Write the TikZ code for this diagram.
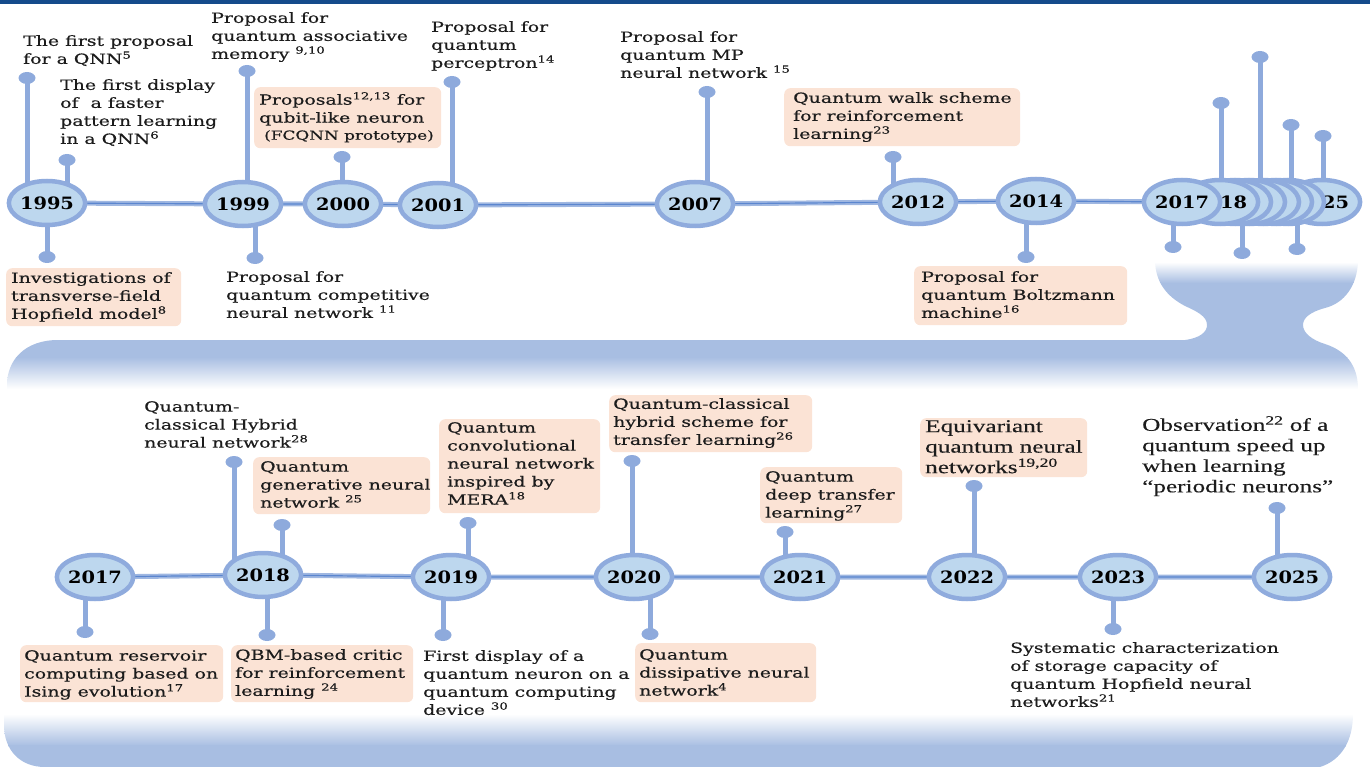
\documentclass[tikz,border=0pt]{standalone}
\usepackage{fontspec}
\setmainfont{DejaVu Serif}[FakeStretch=1.35,FakeBold=0.4]
\newfontfamily\yearfont{DejaVu Serif}[FakeStretch=1.14]
\newfontfamily\tmsfont{Liberation Serif}[FakeStretch=1.4,FakeBold=0.3]
\usetikzlibrary{shapes.geometric}
\pgfdeclarelayer{bg}
\pgfsetlayers{bg,main}
\definecolor{circfill}{HTML}{BDD7EE}
\definecolor{circdraw}{HTML}{8FABDD}
\definecolor{stemc}{HTML}{8EAADC}
\definecolor{boxc}{HTML}{FBE3D5}
\definecolor{bandc}{HTML}{A8BEE2}
\definecolor{linein}{HTML}{5B86CF}
\definecolor{stripc}{HTML}{154B8B}
\definecolor{txt}{HTML}{1C1C1C}
\begin{document}
\begin{tikzpicture}[x=1pt,y=-1pt,
  yr/.style={ellipse,draw=circdraw,fill=circfill,line width=4.5pt,minimum width=72pt,minimum height=44pt,inner sep=0pt,font=\yearfont\bfseries\fontsize{17}{18}\selectfont,text=black},
  yrblank/.style={yr},
  dotn/.style={ellipse,fill=stemc,minimum width=17pt,minimum height=12pt,inner sep=0pt},
  stem/.style={draw=stemc,line width=5pt},
  tlback/.style={draw=stemc!85,line width=5pt},
  tlfront/.style={draw=linein,line width=1.2pt},
  lbl/.style={anchor=north west,inner sep=0pt,align=left,text=txt,font=\fontsize{14}{18}\selectfont},
  tlbl/.style={anchor=north west,inner sep=0pt,align=left,text=txt,font=\tmsfont\fontsize{18}{20.5}\selectfont},
  boxbg/.style={fill=boxc,rounded corners=6pt,inner sep=0pt,anchor=north west}
]
\useasboundingbox (0,0) rectangle (1370,767);
% top strip
\fill[stripc] (0,0) rectangle (1370,4);

% ---------- bands ----------
\begin{pgfonlayer}{bg}
\begin{scope}
\clip (7,389) -- (7,385) .. controls (7,360) and (25,340) .. (58,340) -- (1185,340)
  .. controls (1200,338) and (1207,332) .. (1207,325)
  .. controls (1207,316) and (1196,311) .. (1185,306)
  .. controls (1166,296) and (1156,282) .. (1155,262) -- (1358,262)
  .. controls (1357,285) and (1345,303) .. (1325,308)
  .. controls (1310,312) and (1303,318) .. (1303,325)
  .. controls (1303,333) and (1312,340) .. (1325,344)
  .. controls (1350,352) and (1358,370) .. (1358,389) -- cycle;
\fill[bandc] (0,282) rectangle (1370,358);
\shade[top color=white,bottom color=bandc] (0,262) rectangle (1370,283);
\shade[top color=bandc,bottom color=white] (0,357) rectangle (1370,389);
\end{scope}
\begin{scope}
\clip (4,714) -- (4,725) .. controls (4,750) and (20,767) .. (45,767) -- (1320,767)
  .. controls (1342,760) and (1353,740) .. (1353,714) -- cycle;
\shade[top color=white,bottom color=bandc] (0,714) rectangle (1370,746);
\fill[bandc] (0,745) rectangle (1370,768);
\end{scope}
\end{pgfonlayer}

% ---------- top row circles ----------
\node[yr] (a1995) at (47,203) {1995};
\node[yr] (a1999) at (243,204) {1999};
\node[yr] (a2000) at (343,204) {2000};
\node[yr] (a2001) at (438,205) {2001};
\node[yr] (a2007) at (695,204) {2007};
\node[yr] (a2012) at (918,202) {2012};
\node[yr] (a2014) at (1036,201) {2014};
\node[yr] (k2025) at (1322,202) {\phantom{20}25};
\node[yrblank] (k2023) at (1288,202) {};
\node[yrblank] (k2022) at (1276,202) {};
\node[yrblank] (k2021) at (1263,202) {};
\node[yrblank] (k2020) at (1249,202) {};
\node[yrblank] (k2019) at (1235,202) {};
\node[yr] (k2018) at (1220,202) {\phantom{20}18};
\node[yr] (k2017) at (1182,202) {2017};

% top dots
\node[dotn] (t1) at (27,78) {};
\node[dotn] (t2) at (67,160) {};
\node[dotn] (t3) at (47,257) {};
\node[dotn] (t4) at (247,71) {};
\node[dotn] (t5) at (255,258) {};
\node[dotn] (t6) at (342,157) {};
\node[dotn] (t7) at (452,82) {};
\node[dotn] (t8) at (707,92) {};
\node[dotn] (t9) at (893,157) {};
\node[dotn] (t10) at (1026,257) {};
\node[dotn] (t11) at (1221,103) {};
\node[dotn] (t12) at (1260,57) {};
\node[dotn] (t13) at (1291,125) {};
\node[dotn] (t14) at (1323,136) {};
\node[dotn] (t15) at (1173,247) {};
\node[dotn] (t16) at (1242,253) {};
\node[dotn] (t17) at (1297,249) {};

% ---------- bottom row circles ----------
\node[yr] (b2017) at (95,577) {2017};
\node[yr] (b2018) at (263,575) {2018};
\node[yr] (b2019) at (451,577) {2019};
\node[yr] (b2020) at (634,577) {2020};
\node[yr] (b2021) at (800,577) {2021};
\node[yr] (b2022) at (967,577) {2022};
\node[yr] (b2023) at (1118,577) {2023};
\node[yr] (b2025) at (1292,577) {2025};

\node[dotn] (s1) at (85,632) {};
\node[dotn] (s2) at (234,462) {};
\node[dotn] (s3) at (282,525) {};
\node[dotn] (s4) at (267,635) {};
\node[dotn] (s5) at (468,523) {};
\node[dotn] (s6) at (443,635) {};
\node[dotn] (s7) at (632,461) {};
\node[dotn] (s8) at (650,634) {};
\node[dotn] (s9) at (785,532) {};
\node[dotn] (s10) at (974,486) {};
\node[dotn] (s11) at (1113,629) {};
\node[dotn] (s12) at (1277,508) {};

% ---------- connectors (behind) ----------
\begin{pgfonlayer}{bg}
\draw[tlback] (a1995.center) -- (a1999.center) -- (a2000.center) -- (a2001.center) -- (a2007.center) -- (a2012.center) -- (a2014.center) -- (k2017.center);
\draw[tlfront] (a1995.center) -- (a1999.center) -- (a2000.center) -- (a2001.center) -- (a2007.center) -- (a2012.center) -- (a2014.center) -- (k2017.center);
\draw[tlback] (b2017.center) -- (b2018.center) -- (b2019.center) -- (b2020.center) -- (b2021.center) -- (b2022.center) -- (b2023.center) -- (b2025.center);
\draw[tlfront] (b2017.center) -- (b2018.center) -- (b2019.center) -- (b2020.center) -- (b2021.center) -- (b2022.center) -- (b2023.center) -- (b2025.center);
\foreach \d/\c in {t1/a1995,t2/a1995,t3/a1995,t4/a1999,t5/a1999,t6/a2000,t7/a2001,t8/a2007,t9/a2012,t10/a2014,t11/k2018,t12/k2020,t13/k2022,t14/k2025,t15/k2017,t16/k2019,t17/k2023,
  s1/b2017,s2/b2018,s3/b2018,s4/b2018,s5/b2019,s6/b2019,s7/b2020,s8/b2020,s9/b2021,s10/b2022,s11/b2023,s12/b2025}
  \draw[stem] (\d.center) -- (\d.center |- \c.center);
\end{pgfonlayer}

% ---------- boxes ----------
\node[boxbg,minimum width=187pt,minimum height=61pt] (bx1) at (254,87) {};
\node[boxbg,minimum width=236pt,minimum height=58pt] (bx2) at (784,88) {};
\node[boxbg,minimum width=175pt,minimum height=58pt] (bx3) at (6,268) {};
\node[boxbg,minimum width=213pt,minimum height=59pt] (bx4) at (914,266) {};
\node[boxbg,minimum width=177pt,minimum height=57pt] (bx5) at (253,457) {};
\node[boxbg,minimum width=161pt,minimum height=94pt] (bx6) at (439,419) {};
\node[boxbg,minimum width=203pt,minimum height=57pt] (bx7) at (609,395) {};
\node[boxbg,minimum width=142pt,minimum height=56pt] (bx8) at (760,467) {};
\node[boxbg,minimum width=167pt,minimum height=59pt] (bx9) at (920,418) {};
\node[boxbg,minimum width=203pt,minimum height=57pt] (bx10) at (20,645) {};
\node[boxbg,minimum width=182pt,minimum height=57pt] (bx11) at (231,645) {};
\node[boxbg,minimum width=181pt,minimum height=59pt] (bx12) at (635,643) {};

% ---------- top labels ----------
\node[lbl] (l1) at (23,35) {The first proposal\\for a QNN\textsuperscript{5}};
\node[lbl] (l2) at (60,79) {The first display\\of\ \ a faster\\pattern learning\\in a QNN\textsuperscript{6}};
\node[lbl] (l3) at (211,12) {Proposal for\\quantum associative\\memory \textsuperscript{9,10}};
\node[lbl] (l4) at (431,21) {Proposal for\\quantum\\perceptron\textsuperscript{14}};
\node[lbl] (l5) at (620,31) {Proposal for\\quantum MP\\neural network \textsuperscript{15}};
\node[lbl] (l6) at (226,271) {Proposal for\\quantum competitive\\neural network \textsuperscript{11}};
\node[lbl] (x1) at (259,92) {Proposals\textsuperscript{12,13} for\\qubit-like neuron\\[-1pt]\hspace*{5pt}{\fontsize{12.5}{18}\selectfont(FCQNN prototype)}};
\node[lbl] (x2) at (793,92) {Quantum walk scheme\\for reinforcement\\learning\textsuperscript{23}};
\node[lbl] (x3) at (11,272) {Investigations of\\transverse-field\\Hopfield model\textsuperscript{8}};
\node[lbl] (x4) at (921,271) {Proposal for\\quantum Boltzmann\\machine\textsuperscript{16}};

% ---------- bottom labels ----------
\node[lbl] (l7) at (144,401) {Quantum-\\classical Hybrid\\neural network\textsuperscript{28}};
\node[lbl] (x5) at (260,461) {Quantum\\generative neural\\network \textsuperscript{25}};
\node[lbl] (x6) at (447,422) {Quantum\\convolutional\\neural network\\inspired by\\MERA\textsuperscript{18}};
\node[lbl] (x7) at (613,398) {Quantum-classical\\hybrid scheme for\\transfer learning\textsuperscript{26}};
\node[lbl] (x8) at (765,471) {Quantum\\deep transfer\\learning\textsuperscript{27}};
\node[tlbl] (x9) at (925,420) {Equivariant\\quantum neural\\networks\textsuperscript{19,20}};
\node[tlbl] (l8) at (1142,416) {Observation\textsuperscript{22} of a\\quantum speed up\\when learning\\“periodic neurons”};
\node[lbl] (x10) at (24,650) {Quantum reservoir\\computing based on\\Ising evolution\textsuperscript{17}};
\node[lbl] (x11) at (235,649) {QBM-based critic\\for reinforcement\\learning \textsuperscript{24}};
\node[lbl] (l9) at (423,650) {First display of a\\quantum neuron on a\\quantum computing\\device \textsuperscript{30}};
\node[lbl] (x12) at (639,649) {Quantum\\dissipative neural\\network\textsuperscript{4}};
\node[lbl] (l10) at (1010,642) {Systematic characterization\\of storage capacity of\\quantum Hopfield neural\\networks\textsuperscript{21}};
\end{tikzpicture}
\end{document}
